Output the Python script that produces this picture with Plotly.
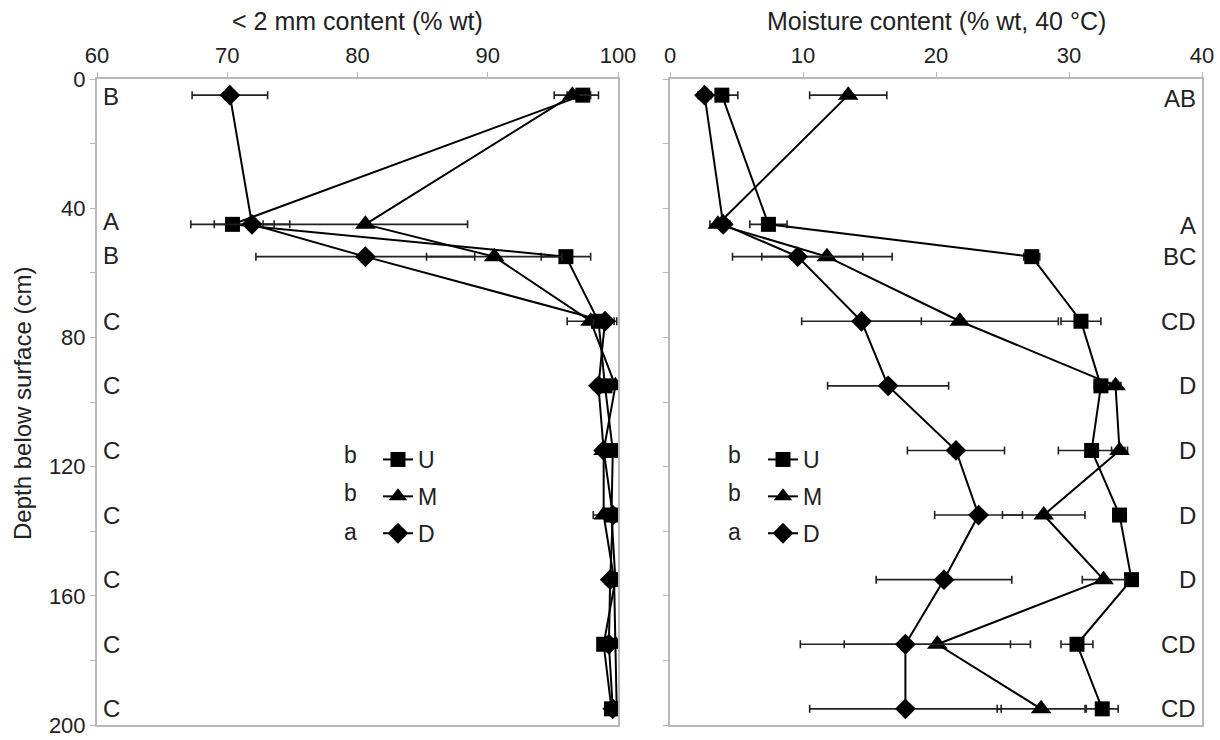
import plotly.graph_objects as go

# Sampling depths (cm below surface)
depths = [5, 45, 55, 75, 95, 115, 135, 155, 175, 195]

# Horizon designations printed beside each depth
horizons_left = ["B", "A", "B", "C", "C", "C", "C", "C", "C", "C"]
horizons_right = ["AB", "A", "BC", "CD", "D", "D", "D", "D", "CD", "CD"]
horizon_label_depths_left = [5.5, 44, 54.5, 75, 95, 115, 135, 155, 175, 195]
horizon_label_depths_right = [6, 45.5, 55, 75, 95, 115, 135, 155, 175, 195]

# < 2 mm content (% wt) per profile, mean and error
fine_U = [97.3, 70.4, 96.0, 98.5, 99.0, 99.6, 99.5, 99.8, 98.9, 99.5]
fine_U_err = [1.2, 3.2, 1.9, 0.8, 0.3, 0.4, 0.3, 0.2, 0.4, 0.3]
fine_M = [96.5, 80.6, 90.5, 97.9, 99.8, 98.9, 98.9, 99.7, 99.8, 99.9]
fine_M_err = [1.4, 7.85, 5.2, 1.8, 0.2, 0.3, 0.8, 0.2, 0.2, 0.1]
fine_D = [70.2, 71.9, 80.6, 99.0, 98.5, 98.9, 99.6, 99.4, 99.3, 99.6]
fine_D_err = [2.9, 2.9, 8.4, 0.9, 0.4, 0.4, 0.3, 0.3, 0.4, 0.3]

# Moisture content (% wt, 40 °C) per profile, mean and error
moist_U = [3.9, 7.4, 27.2, 30.9, 32.4, 31.7, 33.8, 34.7, 30.6, 32.5]
moist_U_err = [1.2, 1.4, 0.6, 1.5, 0.5, 2.5, 0.5, 0.5, 1.2, 1.2]
moist_M = [13.4, 3.6, 11.8, 21.8, 33.5, 33.8, 28.1, 32.6, 20.1, 27.9]
moist_M_err = [2.9, 0.6, 4.9, 7.4, 0.4, 0.6, 3.1, 1.6, 7.0, 3.3]
moist_D = [2.6, 4.0, 9.6, 14.4, 16.4, 21.5, 23.2, 20.6, 17.7, 17.7]
moist_D_err = [0.5, 0.5, 4.9, 4.5, 4.55, 3.65, 3.3, 5.1, 7.9, 7.2]

series_names = ["U", "M", "D"]
series_groups = ["b", "b", "a"]
series_symbols = ["square", "triangle-up", "diamond"]
series_sizes = [15, 18, 16]

FONT = "Liberation Sans, Arial, sans-serif"
TXT = "#222222"
W, H = 1220, 740
GRID = "#b9b9b9"

L_DOM = [97 / W, 618 / W]
R_DOM = [670 / W, 1202 / W]
Y_DOM = [1 - 725 / H, 1 - 79 / H]

fig = go.Figure()

left_sets = [(fine_U, fine_U_err), (fine_M, fine_M_err), (fine_D, fine_D_err)]
right_sets = [(moist_U, moist_U_err), (moist_M, moist_M_err), (moist_D, moist_D_err)]

for i, name in enumerate(series_names):
    vals, errs = left_sets[i]
    fig.add_trace(go.Scatter(
        x=vals, y=depths, xaxis="x", yaxis="y", name=name,
        mode="lines+markers", legend="legend", legendgroup="L" + name,
        line=dict(color="black", width=2),
        marker=dict(symbol=series_symbols[i], size=series_sizes[i], color="black"),
        error_x=dict(type="data", array=errs, color="#222222", thickness=1.6, width=4),
    ))
for i, name in enumerate(series_names):
    vals, errs = right_sets[i]
    fig.add_trace(go.Scatter(
        x=vals, y=depths, xaxis="x2", yaxis="y2", name=name,
        mode="lines+markers", legend="legend2", legendgroup="R" + name,
        line=dict(color="black", width=2),
        marker=dict(symbol=series_symbols[i], size=series_sizes[i], color="black"),
        error_x=dict(type="data", array=errs, color="#222222", thickness=1.6, width=4),
    ))

axis_common = dict(
    showline=True, linecolor=GRID, linewidth=2, mirror=True, automargin=False,
    showgrid=False, zeroline=False, ticks="outside", ticklen=5,
    tickcolor=GRID, tickwidth=1, ticklabeloverflow="allow",
    tickfont=dict(family=FONT, size=22, color=TXT),
)


def label(text, x, y, xref="paper", yref="paper", size=24, **kw):
    opts = dict(text=text, x=x, y=y, xref=xref, yref=yref, showarrow=False,
                xanchor="center", yanchor="middle",
                font=dict(family=FONT, size=size, color=TXT))
    opts.update(kw)
    return opts


annotations = [
    label("< 2 mm content (% wt)", (L_DOM[0] + L_DOM[1]) / 2, 1 - 21 / H, size=25),
    label("Moisture content (% wt, 40 °C)", (R_DOM[0] + R_DOM[1]) / 2, 1 - 21 / H, size=25),
    label("Depth below surface (cm)", 22 / W, 1 - 404 / H, size=24, textangle=-90),
]

# Horizon labels at the inner edges of each panel
for lab, d in zip(horizons_left, horizon_label_depths_left):
    annotations.append(label(lab, L_DOM[0], d, yref="y", xanchor="left", xshift=4))
for lab, d in zip(horizons_right, horizon_label_depths_right):
    annotations.append(label(lab, R_DOM[1], d, yref="y2", xanchor="right", xshift=-4))

# Significance letters ahead of legend entries
row_px = [455, 493, 532]
for letter, ypx in zip(series_groups, row_px):
    annotations.append(label(letter, 350 / W, 1 - ypx / H, size=23))
    annotations.append(label(letter, 735 / W, 1 - ypx / H, size=23))

legend_common = dict(
    font=dict(family=FONT, size=23, color=TXT),
    bgcolor="rgba(0,0,0,0)", traceorder="grouped", tracegroupgap=4,
    xanchor="left", yanchor="top", itemwidth=30,
)

fig.update_layout(
    width=W, height=H,
    margin=dict(l=0, r=0, t=0, b=0, pad=0, autoexpand=False),
    paper_bgcolor="white", plot_bgcolor="white",
    xaxis=dict(domain=L_DOM, range=[60, 100], side="top", dtick=10, anchor="y", **axis_common),
    yaxis=dict(domain=Y_DOM, range=[200, 0], dtick=40, anchor="x",
               minor=dict(dtick=20, ticks="outside", ticklen=5, tickcolor=GRID), **axis_common),
    xaxis2=dict(domain=R_DOM, range=[0, 40], side="top", dtick=10, anchor="y2", **axis_common),
    yaxis2=dict(domain=Y_DOM, range=[200, 0], dtick=20, anchor="x2", showticklabels=False,
                **axis_common),
    legend=dict(x=378 / W, y=1 - 438 / H, **legend_common),
    legend2=dict(x=763 / W, y=1 - 438 / H, **legend_common),
    annotations=annotations,
    showlegend=True,
)

fig.write_html("out.html")
